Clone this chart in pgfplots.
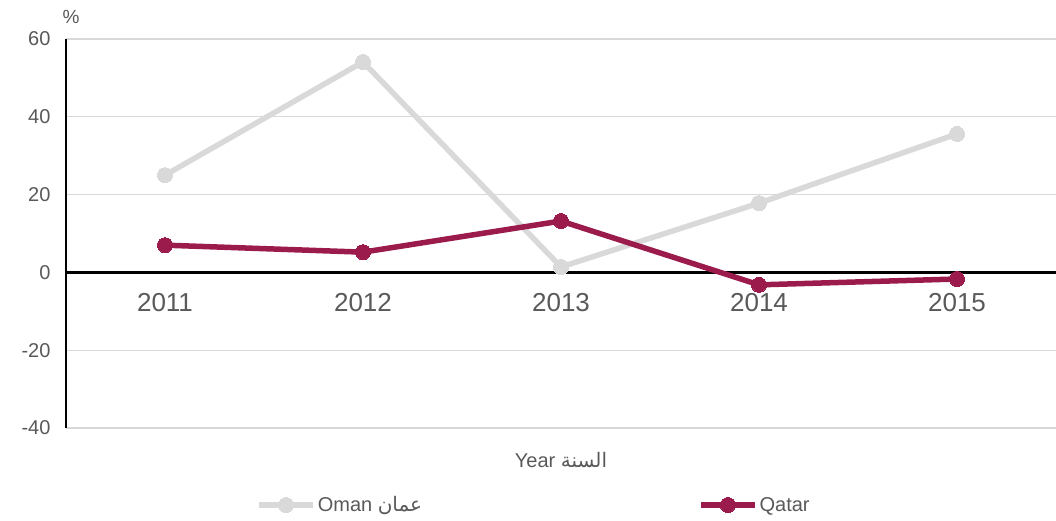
\documentclass[border=0pt]{standalone}
\usepackage{pgfplots}
\pgfplotsset{compat=1.18}
\usepackage{fontspec}
\setmainfont{Liberation Sans}
\newfontfamily\arabicfont[Script=Arabic]{DejaVu Sans}
\TeXXeTstate=1
\definecolor{omanc}{HTML}{D9D9D9}
\definecolor{qatarc}{HTML}{9B1B4D}
\definecolor{txt}{HTML}{595959}
\begin{document}
\begin{tikzpicture}
\useasboundingbox (0,0) rectangle (1056pt,521pt);
\begin{axis}[
 at={(66pt,93pt)}, anchor=south west, scale only axis, width=990pt, height=389pt,
 xmin=-0.5, xmax=4.5, ymin=-40, ymax=60,
 axis x line=middle, axis y line=left,
 hide obscured x ticks=false, hide obscured y ticks=false,
 axis line style={-},
 x axis line style={line width=3pt, black},
 y axis line style={line width=2pt, black},
 ytick={-40,-20,0,20,40,60},
 xtick={0,1,2,3,4}, xticklabels={2011,2012,2013,2014,2015},
 ymajorgrids, grid style={omanc, line width=1.3pt},
 major tick length=0pt,
 /pgf/number format/assume math mode=true,
 ticklabel style={text=txt},
 yticklabel style={font=\fontsize{20}{24}\selectfont, xshift=-12pt},
 xticklabel style={font=\fontsize{26}{30}\selectfont, yshift=-17pt},
 clip=false,
 legend columns=2,
 legend style={at={(0.192,-0.198)}, anchor=west, draw=none, fill=none, inner sep=0pt,
   font=\fontsize{20}{24}\selectfont, text=txt,
   nodes={inner sep=2pt},
   /tikz/every even column/.append style={column sep=274pt}},
 legend image code/.code={\draw[mark repeat=2, mark phase=2, #1] plot coordinates {(0pt,0pt)(27pt,0pt)(54pt,0pt)};},
]
\addplot[omanc, line width=5.5pt, mark=*, mark size=7.5pt, mark options={solid, line width=0pt}]
  coordinates {(0,25.0)(1,54.1)(2,1.4)(3,17.8)(4,35.6)};
\addlegendentry{Oman {\arabicfont\beginR عمان\endR}}
\addplot[qatarc, line width=5.5pt, mark=*, mark size=7.5pt, mark options={solid, line width=0pt}]
  coordinates {(0,7.0)(1,5.2)(2,13.2)(3,-3.2)(4,-1.7)};
\addlegendentry{Qatar}
\node[text=txt, font=\fontsize{19}{22}\selectfont] at (rel axis cs:0,1) [xshift=5pt, yshift=22pt] {\%};
\node[text=txt, font=\fontsize{20}{24}\selectfont] at (rel axis cs:0.5,0) [yshift=-32pt] {Year {\arabicfont\beginR السنة\endR}};
\end{axis}
\end{tikzpicture}
\end{document}
